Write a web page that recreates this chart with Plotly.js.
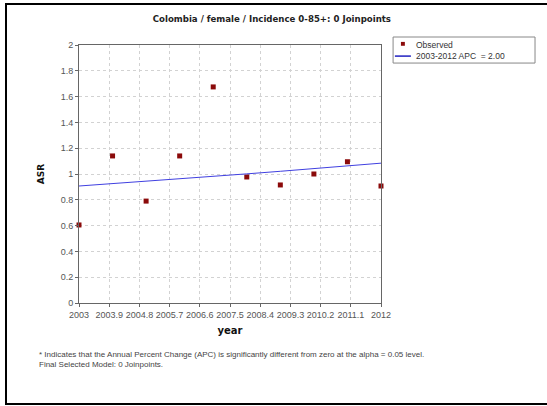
<!DOCTYPE html>
<html><head><meta charset="utf-8">
<script src="https://cdn.plot.ly/plotly-3.0.1.min.js"></script>
<style>
html,body{margin:0;padding:0;background:#fff;}
#wrap{position:relative;width:547px;height:406px;}
#chart{width:547px;height:406px;}
#frame{position:absolute;left:5px;top:3px;width:560px;height:398px;border-left:2px solid #000;border-top:2px solid #000;border-bottom:2px solid #000;pointer-events:none;}
</style></head>
<body><div id="wrap"><div id="chart"></div><div id="frame"></div></div>
<script>
const years = [2003, 2004, 2005, 2006, 2007, 2008, 2009, 2010, 2011, 2012];
const observedASR = [0.605, 1.14, 0.79, 1.14, 1.675, 0.977, 0.915, 1.0, 1.095, 0.907];
const fittedASR = [0.907, 0.925, 0.944, 0.962, 0.982, 1.001, 1.021, 1.042, 1.063, 1.084];
const xTicks = [2003, 2003.9, 2004.8, 2005.7, 2006.6, 2007.5, 2008.4, 2009.3, 2010.2, 2011.1, 2012];
const xTickLabels = ["2003","2003.9","2004.8","2005.7","2006.6","2007.5","2008.4","2009.3","2010.2","2011.1","2012"];
const yTicks = [0,0.2,0.4,0.6,0.8,1,1.2,1.4,1.6,1.8,2];
const yTickLabels = ["0","0.2","0.4","0.6","0.8","1","1.2","1.4","1.6","1.8","2"];
const titleText = "Colombia / female / Incidence 0-85+: 0 Joinpoints";
const seriesNames = ["Observed", "2003-2012 APC  = 2.00"];
const footnotes = ["* Indicates that the Annual Percent Change (APC) is significantly different from zero at the alpha = 0.05 level.", "Final Selected Model: 0 Joinpoints."];

const markerColor = '#8b0a0a', lineColor = '#4040e0';
const traces = [
  {x: years, y: observedASR, mode: 'markers', type: 'scatter', name: seriesNames[0],
   marker: {symbol: 'square', size: 5, color: markerColor}, cliponaxis: false},
  {x: years, y: fittedASR, mode: 'lines', type: 'scatter', name: seriesNames[1],
   line: {color: lineColor, width: 1}}
];
const axisCommon = {showline: true, linecolor: '#666', linewidth: 1, mirror: true,
  ticks: 'outside', ticklen: 3, tickcolor: '#666', gridcolor: '#d2d2d2', griddash: 'dot', gridwidth: 1,
  tickfont: {family: 'Liberation Sans, Arial', size: 9, color: '#555'}, zeroline: false};
const legFont = {family: 'Liberation Sans, Arial', size: 8.5, color: '#333'};
const layout = {
  width: 547, height: 406,
  margin: {l: 79, r: 166, t: 45, b: 103},
  paper_bgcolor: '#fff', plot_bgcolor: '#fff',
  title: {text: titleText, x: 0.497, xref: 'container', y: 0.953, yref: 'container', yanchor: 'middle',
    font: {family: 'DejaVu Sans', size: 8.6, color: '#222', weight: 'bold'}},
  xaxis: Object.assign({}, axisCommon, {range: [2003, 2012], tickvals: xTicks, ticktext: xTickLabels,
    title: {text: 'year', standoff: 8, font: {family: 'DejaVu Sans', size: 10, color: '#111', weight: 'bold'}}}),
  yaxis: Object.assign({}, axisCommon, {range: [0, 2], tickvals: yTicks, ticktext: yTickLabels,
    title: {text: 'ASR', standoff: 14, font: {family: 'DejaVu Sans', size: 9, color: '#111', weight: 'bold'}}}),
  showlegend: false,
  shapes: [
    {type: 'rect', xref: 'paper', yref: 'paper', x0: 1.040, x1: 1.510, y0: 0.930, y1: 1.031,
     line: {color: '#888', width: 1}, fillcolor: '#fff'},
    {type: 'rect', xref: 'paper', yref: 'paper', x0: 1.066, x1: 1.079, y0: 0.997, y1: 1.012,
     line: {width: 0}, fillcolor: markerColor},
    {type: 'line', xref: 'paper', yref: 'paper', x0: 1.046, x1: 1.099, y0: 0.957, y1: 0.957,
     line: {color: '#2020c0', width: 1.5}}
  ],
  annotations: [
    {text: seriesNames[0], xref: 'paper', yref: 'paper', x: 1.109, y: 1.000, xanchor: 'left', yanchor: 'middle', showarrow: false, font: legFont},
    {text: seriesNames[1], xref: 'paper', yref: 'paper', x: 1.109, y: 0.957, xanchor: 'left', yanchor: 'middle', showarrow: false, font: legFont},
    {text: footnotes[0], xref: 'paper', yref: 'paper', x: -0.139, y: -0.2, xanchor: 'left', yanchor: 'middle', showarrow: false,
     font: {family: 'Liberation Sans, Arial', size: 8, color: '#444'}},
    {text: footnotes[1], xref: 'paper', yref: 'paper', x: -0.139, y: -0.24, xanchor: 'left', yanchor: 'middle', showarrow: false,
     font: {family: 'Liberation Sans, Arial', size: 8, color: '#444'}}
  ]
};
Plotly.newPlot('chart', traces, layout, {displayModeBar: false, staticPlot: true});
</script></body></html>
